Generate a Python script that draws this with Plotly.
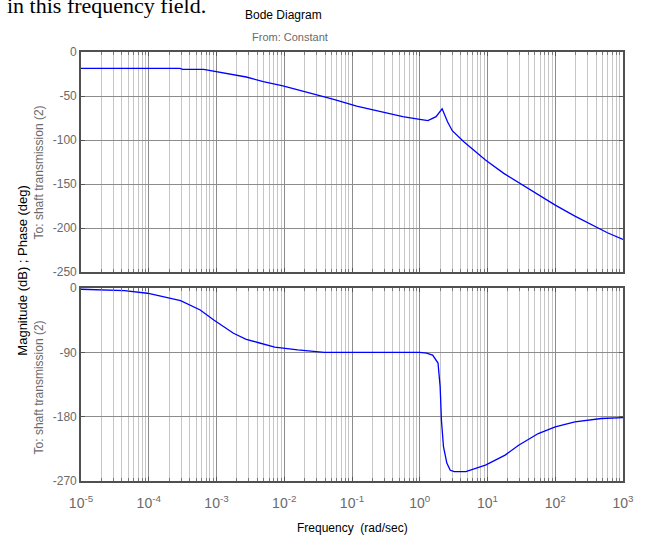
import plotly.graph_objects as go
from plotly.subplots import make_subplots

# Magnitude (top panel)
mag_freq = [1e-5, 2.88e-4, 3.16e-4, 6.46e-4, 2.75e-3, 4.9e-3, 9.55e-3, 0.0275, 0.0537,
            0.117, 0.288, 0.562, 1.0, 1.32, 1.74, 2.14, 2.57, 3.02, 4.47, 9.33, 17.4,
            28.8, 56.2, 100, 195, 339, 589, 1000]
mag_db = [-18.5, -18.5, -19.7, -19.7, -28.4, -33.7, -38.6, -47.7, -53.8,
          -61.4, -68.6, -73.5, -76.5, -78.0, -73.5, -64.5, -79.2, -89.4, -101.9, -122.7, -137.9,
          -148.5, -162.5, -173.9, -186.4, -195.8, -205.3, -212.9]

# Phase (bottom panel)
ph_freq = [1e-5, 4.37e-5, 9.55e-5, 1.86e-4, 2.95e-4, 5.75e-4, 9.12e-4, 1.78e-3, 2.75e-3,
           4.07e-3, 7.24e-3, 0.0158, 0.0389, 1.0, 1.26, 1.55, 1.86, 2.0, 2.09, 2.24, 2.51,
           2.82, 3.24, 4.79, 9.33, 18.2, 28.8, 56.2, 100, 195, 479, 1000]
ph_deg = [-1.8, -3.7, -7.4, -13.0, -17.7, -30.8, -44.8, -63.4, -71.8,
          -76.3, -82.8, -86.6, -90.0, -90.0, -91.0, -93.8, -105.0, -138.0, -185.0, -222.0, -245.0,
          -255.0, -257.0, -257.0, -247.8, -233.8, -219.9, -203.6, -194.3, -187.3, -182.6, -181.3]

decades = [1e-5, 1e-4, 1e-3, 1e-2, 1e-1, 1e0, 1e1, 1e2, 1e3]
decade_labels = ["10<sup>-5</sup>", "10<sup>-4</sup>", "10<sup>-3</sup>", "10<sup>-2</sup>",
                 "10<sup>-1</sup>", "10<sup>0</sup>", "10<sup>1</sup>", "10<sup>2</sup>",
                 "10<sup>3</sup>"]
minor_mult = [2, 3, 4, 5, 6, 7, 8, 9]
minor_vals = [m * d for d in decades[:-1] for m in minor_mult]

mag_ticks = [0, -50, -100, -150, -200, -250]
ph_ticks = [0, -90, -180, -270]

FONT = "Liberation Sans, Arial, sans-serif"
GRAY = "#6a6a6a"

W, H = 646, 538
L, R, T, B = 81, 17, 52, 57
PW, PH = W - L - R, H - T - B


def px(x):
    return (x - L) / PW


def py(y):
    return (H - B - y) / PH


fig = make_subplots(rows=2, cols=1, shared_xaxes=False, vertical_spacing=0.037,
                    row_heights=[0.513, 0.45])

fig.add_trace(go.Scatter(x=mag_freq, y=mag_db, mode="lines",
                         line=dict(color="#0000ff", width=1.3), showlegend=False), row=1, col=1)
fig.add_trace(go.Scatter(x=ph_freq, y=ph_deg, mode="lines",
                         line=dict(color="#0000ff", width=1.3), showlegend=False), row=2, col=1)

xcommon = dict(type="log", range=[-5, 3], tickmode="array", tickvals=decades,
               showgrid=True, gridcolor="#8c8c8c", gridwidth=1,
               ticks="inside", ticklen=4, tickcolor="#555555",
               showline=True, linecolor="#505050", linewidth=1.6, mirror="ticks",
               minor=dict(tickmode="array", tickvals=minor_vals, showgrid=True,
                          gridcolor="#c6c6c6", gridwidth=1, ticks="inside", ticklen=3,
                          tickcolor="#777777"),
               zeroline=False)
fig.update_xaxes(**xcommon, ticktext=[""] * len(decades), showticklabels=False, row=1, col=1)
fig.update_xaxes(**xcommon, ticktext=decade_labels, showticklabels=True,
                 ticklabelstandoff=8,
                 tickfont=dict(family=FONT, size=14, color=GRAY), row=2, col=1)

ycommon = dict(showgrid=True, gridcolor="#8c8c8c", gridwidth=1,
               ticks="inside", ticklen=4, tickcolor="#555555",
               showline=True, linecolor="#505050", linewidth=1.6, mirror="ticks",
               zeroline=False, tickfont=dict(family=FONT, size=12, color=GRAY))
fig.update_yaxes(**ycommon, range=[-250, 0], tickvals=mag_ticks,
                 ticktext=[str(v) for v in mag_ticks], row=1, col=1)
fig.update_yaxes(**ycommon, range=[-270, 0], tickvals=ph_ticks,
                 ticktext=[str(v) for v in ph_ticks], row=2, col=1)


def ann(text, x, y, size, color, angle=0, family=FONT):
    return dict(text=text, x=px(x), y=py(y), xref="paper", yref="paper",
                xanchor="center", yanchor="middle", textangle=angle, showarrow=False,
                font=dict(family=family, size=size, color=color))


annotations = [
    dict(text="in this frequency field.", x=px(4), y=py(15), xref="paper", yref="paper",
         xanchor="left", yanchor="bottom", showarrow=False, yshift=-5,
         font=dict(family="Liberation Serif, Times New Roman, serif", size=22, color="black")),
    ann("Bode Diagram", 286, 15, 12, "black"),
    ann("From: Constant", 292, 37, 11, GRAY),
    ann("Magnitude (dB) ; Phase (deg)", 21, 270, 13, "black", -90),
    ann("To: shaft transmission (2)", 39, 172, 12, GRAY, -90),
    ann("To: shaft transmission (2)", 39, 387, 12, GRAY, -90),
    ann("Frequency  (rad/sec)", 356, 528, 12, "black"),
]

fig.update_layout(
    width=W, height=H,
    margin=dict(l=L, r=R, t=T, b=B),
    paper_bgcolor="white", plot_bgcolor="white",
    font=dict(family=FONT),
    annotations=annotations,
)

fig.write_html("out.html")
